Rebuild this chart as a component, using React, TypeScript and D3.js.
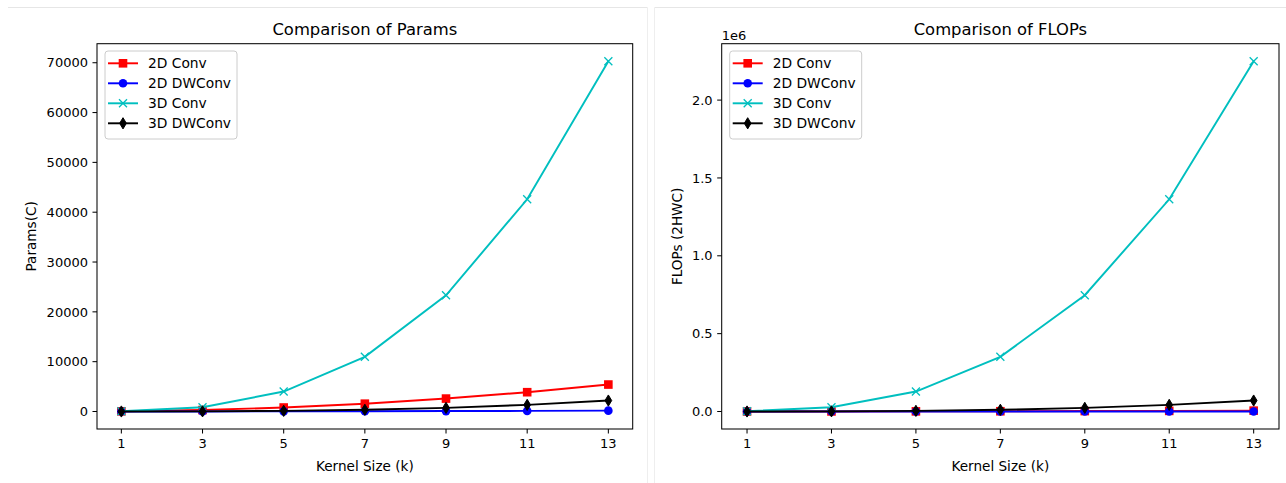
import React from 'react';
import * as d3 from 'd3';

// values
const kernelSizes = [1, 3, 5, 7, 9, 11, 13];

const params2DConv = [32, 288, 800, 1568, 2592, 3872, 5408];
const params2DDWConv = [1, 9, 25, 49, 81, 121, 169];
const params3DConv = [32, 864, 4000, 10976, 23328, 42592, 70304];
const params3DDWConv = [1, 27, 125, 343, 729, 1331, 2197];

const flops2DConv = [32, 288, 800, 1568, 2592, 3872, 5408];
const flops2DDWConv = [1, 9, 25, 49, 81, 121, 169];
const flops3DConv = [1024, 27648, 128000, 351232, 746496, 1362944, 2249728];
const flops3DDWConv = [32, 864, 4000, 10976, 23328, 42592, 70304];

const seriesNames = ['2D Conv', '2D DWConv', '3D Conv', '3D DWConv'];
const seriesColors = ['#ff0000', '#0000ff', '#00bfbf', '#000000'];
const seriesMarkers = ['square', 'circle', 'x', 'thinDiamond'];

const paramsTicks = [0, 10000, 20000, 30000, 40000, 50000, 60000, 70000];
const flopsTicks = [0, 0.5e6, 1.0e6, 1.5e6, 2.0e6];

const FONT = '"DejaVu Sans", sans-serif';
const PT = 1.29; // px per point in the picture
const W = 1286;
const H = 483;

function Marker({ type, x, y, color }) {
  const s = 8.6;
  if (type === 'square')
    return <rect x={x - s / 2} y={y - s / 2} width={s} height={s} fill={color} />;
  if (type === 'circle') return <circle cx={x} cy={y} r={s / 2} fill={color} />;
  if (type === 'x') {
    const h = s / 2 - 0.3;
    return (
      <path
        d={`M${x - h},${y - h}L${x + h},${y + h}M${x - h},${y + h}L${x + h},${y - h}`}
        stroke={color}
        strokeWidth={1.3}
        fill="none"
      />
    );
  }
  // matplotlib 'd' : thin diamond
  const hy = s / 2 + 1.3;
  const hx = hy * 0.6;
  return (
    <path d={`M${x},${y - hy}L${x + hx},${y}L${x},${y + hy}L${x - hx},${y}Z`} fill={color} stroke={color} strokeWidth={1} />
  );
}

function Panel({ left, right, top, bottom, title, yLabel, yLabelX, series, yTicks, yFormat, offsetText }) {
  const all = series.flat();
  const lo = d3.min(all);
  const hi = d3.max(all);
  const pad = (hi - lo) * 0.05;
  const x = d3.scaleLinear().domain([0.4, 13.6]).range([left, right]);
  const y = d3.scaleLinear().domain([lo - pad, hi + pad]).range([bottom, top]);
  const tickLen = 3.5 * PT;
  const tickPad = 3.5 * PT;
  const fs = 13;
  const labelFs = 13.6;
  const legendFs = 13.8;

  const line = d3
    .line()
    .x((d, i) => x(kernelSizes[i]))
    .y((d) => y(d));

  const lgX = left + 8;
  const lgY = top + 7.3;

  return (
    <g>
      <text x={(left + right) / 2} y={top - 6 * PT - 1} textAnchor="middle" fontSize={16.4} fill="#000">
        {title}
      </text>
      {offsetText && (
        <text x={left} y={top - 4} fontSize={fs} fill="#000">
          {offsetText}
        </text>
      )}

      {series.map((vals, si) => (
        <g key={si}>
          <path d={line(vals)} fill="none" stroke={seriesColors[si]} strokeWidth={1.5 * PT} />
          {vals.map((v, i) => (
            <Marker key={i} type={seriesMarkers[si]} x={x(kernelSizes[i])} y={y(v)} color={seriesColors[si]} />
          ))}
        </g>
      ))}

      <rect x={left} y={top} width={right - left} height={bottom - top} fill="none" stroke="#000" strokeWidth={0.8 * PT} />

      {kernelSizes.map((k) => (
        <g key={k}>
          <line x1={x(k)} x2={x(k)} y1={bottom} y2={bottom + tickLen} stroke="#000" strokeWidth={0.8 * PT} />
          <text x={x(k)} y={bottom + tickLen + tickPad + fs * 0.76} textAnchor="middle" fontSize={fs} fill="#000">
            {k}
          </text>
        </g>
      ))}
      <text x={(left + right) / 2} y={bottom + 42} textAnchor="middle" fontSize={labelFs} fill="#000">
        Kernel Size (k)
      </text>

      {yTicks.map((t) => (
        <g key={t}>
          <line x1={left - tickLen} x2={left} y1={y(t)} y2={y(t)} stroke="#000" strokeWidth={0.8 * PT} />
          <text x={left - tickLen - tickPad} y={y(t)} dy="0.36em" textAnchor="end" fontSize={fs} fill="#000">
            {yFormat(t)}
          </text>
        </g>
      ))}
      <text
        transform={`translate(${yLabelX},${(top + bottom) / 2}) rotate(-90)`}
        textAnchor="middle"
        dy="0.36em"
        fontSize={labelFs}
        fill="#000"
      >
        {yLabel}
      </text>

      <rect x={lgX} y={lgY} width={132} height={88} rx={3} fill="#fff" fillOpacity={0.8} stroke="#cccccc" strokeWidth={1} />
      {seriesNames.map((name, i) => {
        const ry = lgY + 12.3 + i * 20;
        return (
          <g key={name}>
            <line x1={lgX + 3} x2={lgX + 33} y1={ry} y2={ry} stroke={seriesColors[i]} strokeWidth={1.5 * PT} />
            <Marker type={seriesMarkers[i]} x={lgX + 18} y={ry} color={seriesColors[i]} />
            <text x={lgX + 43} y={ry} dy="0.36em" fontSize={legendFs} fill="#000">
              {name}
            </text>
          </g>
        );
      })}
    </g>
  );
}

export default function App() {
  return (
    <svg
      width={W}
      height={H}
      viewBox={`0 0 ${W} ${H}`}
      style={{ position: 'absolute', left: 0, top: 0, background: '#fff' }}
      fontFamily={FONT}
    >
      <rect x={0} y={0} width={W} height={H} fill="#fff" />
      <line x1={8} x2={647.5} y1={7.5} y2={7.5} stroke="#e6e6e6" />
      <line x1={647.5} x2={647.5} y1={7.5} y2={H} stroke="#eeeeee" />
      <line x1={654.5} x2={W} y1={7.5} y2={7.5} stroke="#e6e6e6" />
      <line x1={654.5} x2={654.5} y1={7.5} y2={H} stroke="#eeeeee" />

      <Panel
        left={97}
        right={632.7}
        top={43.7}
        bottom={429}
        title="Comparison of Params"
        yLabel="Params(C)"
        yLabelX={31}
        series={[params2DConv, params2DDWConv, params3DConv, params3DDWConv]}
        yTicks={paramsTicks}
        yFormat={(t) => String(t)}
        offsetText={null}
      />
      <Panel
        left={721.7}
        right={1279}
        top={43.7}
        bottom={429}
        title="Comparison of FLOPs"
        yLabel="FLOPs (2HWC)"
        yLabelX={677}
        series={[flops2DConv, flops2DDWConv, flops3DConv, flops3DDWConv]}
        yTicks={flopsTicks}
        yFormat={(t) => (t / 1e6).toFixed(1)}
        offsetText="1e6"
      />
    </svg>
  );
}
